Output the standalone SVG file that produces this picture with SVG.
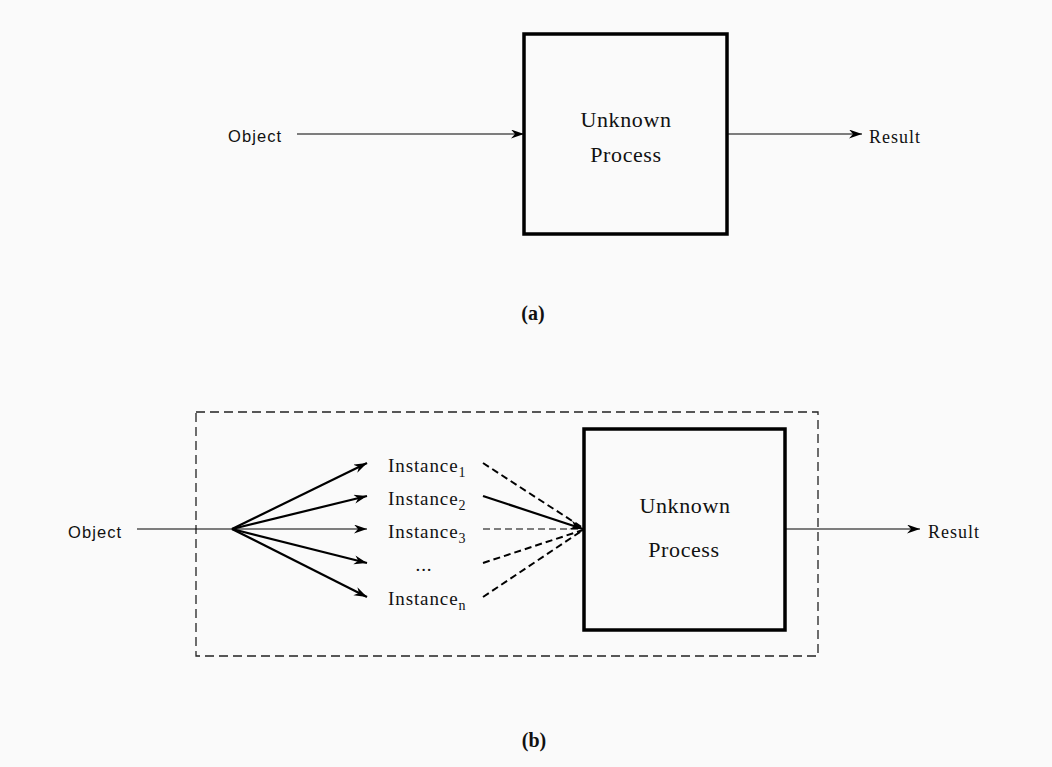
<svg xmlns="http://www.w3.org/2000/svg" width="1052" height="767" viewBox="0 0 1052 767">
  <style>
    .sans { font-family: "Liberation Sans", Arial, sans-serif; font-size: 16.5px; letter-spacing: 1.1px; fill: #111; }
    .serif { font-family: "Liberation Serif", "Times New Roman", serif; fill: #111; }
    .lbl { font-size: 18px; letter-spacing: 1px; }
    .proc { font-size: 22px; letter-spacing: 0.6px; }
    .inst { font-size: 19px; letter-spacing: 0.9px; }
    .sub { font-size: 14px; }
    .cap { font-size: 20px; font-weight: bold; }
    .box { fill: none; stroke: #000; stroke-width: 3.5; }
    .thin { stroke: #000; stroke-width: 1.2; fill: none; }
    .thick { stroke: #000; stroke-width: 2.2; fill: none; }
    .dash { stroke: #000; stroke-width: 2; fill: none; stroke-dasharray: 7 4; }
    .frame { stroke: #222; stroke-width: 1.3; fill: none; stroke-dasharray: 9 5; }
  </style>
  <defs>
    <marker id="arr" markerUnits="userSpaceOnUse" markerWidth="14" markerHeight="10" refX="13" refY="4.5" orient="auto">
      <path d="M0,0 L13,4.5 L0,9 L4,4.5 Z" fill="#000"/>
    </marker>
  </defs>
  <rect width="1052" height="767" fill="#fafafa"/>

  <!-- (a) -->
  <g id="a-object"><text class="sans" x="228" y="142">Object</text></g>
  <g id="a-process">
    <rect class="box" x="524" y="34" width="203" height="200"/>
    <text class="serif proc" x="626" y="127" text-anchor="middle">Unknown</text>
    <text class="serif proc" x="626" y="162" text-anchor="middle">Process</text>
  </g>
  <g id="a-result"><text class="serif lbl" x="869" y="143">Result</text></g>
  <g id="a-caption"><text class="serif cap" x="533" y="320" text-anchor="middle">(a)</text></g>

  <!-- (b) -->
  <g id="b-frame"><rect class="frame" x="196" y="412" width="622" height="244"/></g>
  <g id="b-object"><text class="sans" x="68" y="538">Object</text></g>
  <g id="b-instances">
    <text class="serif inst" x="388" y="472">Instance<tspan class="sub" dy="5">1</tspan></text>
    <text class="serif inst" x="388" y="505">Instance<tspan class="sub" dy="5">2</tspan></text>
    <text class="serif inst" x="388" y="538">Instance<tspan class="sub" dy="5">3</tspan></text>
    <text class="serif inst" x="424" y="571" text-anchor="middle">...</text>
    <text class="serif inst" x="388" y="605">Instance<tspan class="sub" dy="5">n</tspan></text>
  </g>
  <g id="b-process">
    <rect class="box" x="584" y="429" width="201" height="201"/>
    <text class="serif proc" x="685" y="513" text-anchor="middle">Unknown</text>
    <text class="serif proc" x="684" y="557" text-anchor="middle">Process</text>
  </g>
  <g id="b-result"><text class="serif lbl" x="928" y="538">Result</text></g>
  <g id="b-caption"><text class="serif cap" x="534" y="747" text-anchor="middle">(b)</text></g>

  <g id="connectors">
    <!-- (a) -->
    <line class="thin" x1="297" y1="134" x2="524" y2="134" marker-end="url(#arr)"/>
    <line class="thin" x1="727" y1="134" x2="862" y2="134" marker-end="url(#arr)"/>
    <!-- (b) -->
    <line class="thin" x1="137" y1="529" x2="232" y2="529"/>
    <line class="thick" x1="232" y1="529" x2="367" y2="463" marker-end="url(#arr)"/>
    <line class="thick" x1="232" y1="529" x2="367" y2="496" marker-end="url(#arr)"/>
    <line class="thin" x1="232" y1="529" x2="367" y2="529" marker-end="url(#arr)"/>
    <line class="thick" x1="232" y1="529" x2="367" y2="563" marker-end="url(#arr)"/>
    <line class="thick" x1="232" y1="529" x2="367" y2="597" marker-end="url(#arr)"/>
    <line class="dash" x1="483" y1="463" x2="583" y2="528"/>
    <line class="thick" x1="483" y1="496" x2="583" y2="529" marker-end="url(#arr)"/>
    <line class="dash" x1="483" y1="529" x2="583" y2="529" style="stroke-width:1.2"/>
    <line class="dash" x1="483" y1="563" x2="583" y2="530"/>
    <line class="dash" x1="483" y1="597" x2="583" y2="530"/>
    <line class="thin" x1="785" y1="529" x2="920" y2="529" marker-end="url(#arr)"/>
  </g>
</svg>
